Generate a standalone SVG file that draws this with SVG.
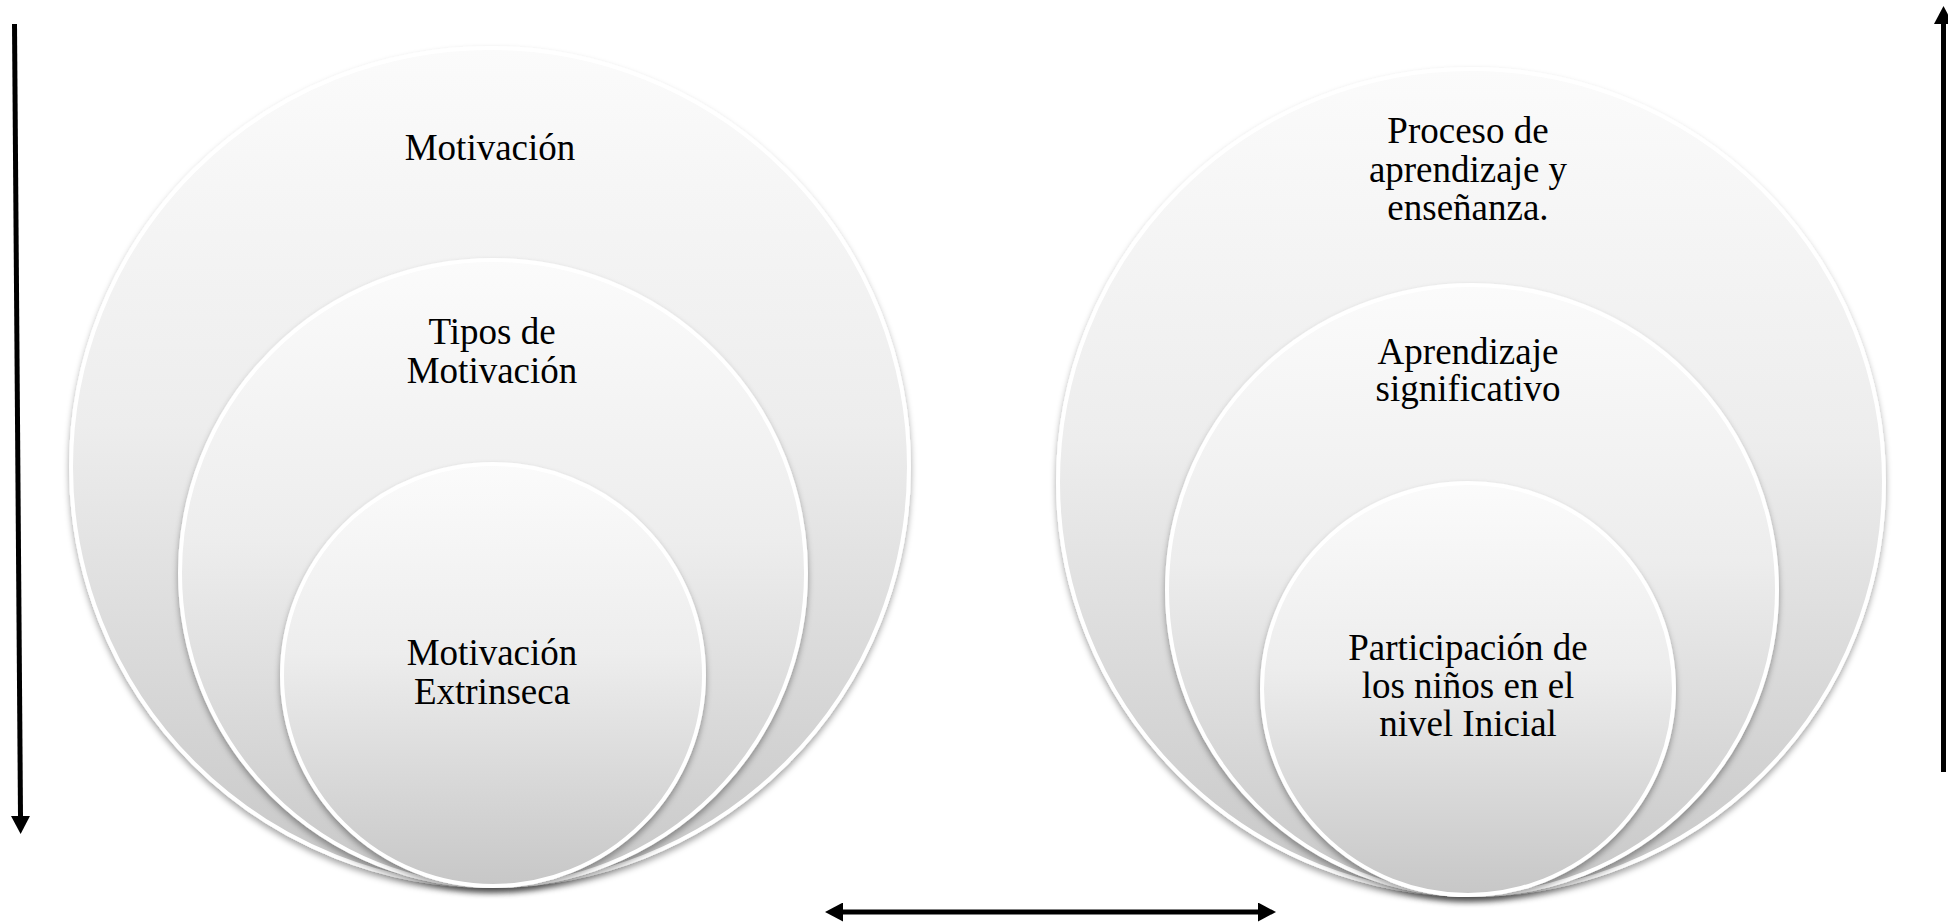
<svg xmlns="http://www.w3.org/2000/svg" width="1948" height="924" viewBox="0 0 1948 924">
  <defs>
    <linearGradient id="g" x1="0" y1="0" x2="0" y2="1">
      <stop offset="0" stop-color="#fbfbfb"/>
      <stop offset="0.45" stop-color="#ededed"/>
      <stop offset="1" stop-color="#c7c7c7"/>
    </linearGradient>
    <filter id="sh" x="-10%" y="-10%" width="120%" height="125%">
      <feDropShadow dx="0" dy="4" stdDeviation="3" flood-color="#000" flood-opacity="0.35"/>
    </filter>
    <marker id="ah" viewBox="0 0 18 19" refX="0" refY="9.5" markerWidth="18" markerHeight="19" markerUnits="userSpaceOnUse" orient="auto-start-reverse">
      <path d="M0,0 L18,9.5 L0,19 z" fill="#000"/>
    </marker>
  </defs>
  <style>
    .c { fill: url(#g); stroke: #ffffff; stroke-width: 4; filter: url(#sh); }
    .t { font-family: "Liberation Serif", "Times New Roman", serif; font-size: 37px; fill: #000; text-anchor: middle; }
    .a { stroke: #000; stroke-width: 5; fill: none; }
  </style>

  <g id="left-outer">
    <circle class="c" cx="490" cy="467" r="419"/>
    <text class="t" x="490" y="160">Motivación</text>
  </g>
  <g id="left-middle">
    <circle class="c" cx="493" cy="573" r="313"/>
    <text class="t" x="492" y="344">Tipos de</text>
    <text class="t" x="492" y="383">Motivación</text>
  </g>
  <g id="left-inner">
    <circle class="c" cx="493" cy="675" r="211"/>
    <text class="t" x="492" y="665">Motivación</text>
    <text class="t" x="492" y="704">Extrinseca</text>
  </g>

  <g id="right-outer">
    <circle class="c" cx="1471" cy="482" r="413"/>
    <text class="t" x="1468" y="143">Proceso de</text>
    <text class="t" x="1468" y="182">aprendizaje y</text>
    <text class="t" x="1468" y="220">enseñanza.</text>
  </g>
  <g id="right-middle">
    <circle class="c" cx="1472" cy="590" r="305"/>
    <text class="t" x="1468" y="364">Aprendizaje</text>
    <text class="t" x="1468" y="401">significativo</text>
  </g>
  <g id="right-inner">
    <circle class="c" cx="1468" cy="689" r="206"/>
    <text class="t" x="1468" y="660">Participación de</text>
    <text class="t" x="1468" y="698">los niños en el</text>
    <text class="t" x="1468" y="736">nivel Inicial</text>
  </g>

  <g id="connectors">
    <line class="a" x1="14.5" y1="24" x2="20.5" y2="816" marker-end="url(#ah)"/>
    <line class="a" x1="1943.5" y1="772" x2="1943.5" y2="24" marker-end="url(#ah)"/>
    <line class="a" x1="843" y1="912" x2="1258" y2="912" marker-start="url(#ah)" marker-end="url(#ah)"/>
  </g>
</svg>
